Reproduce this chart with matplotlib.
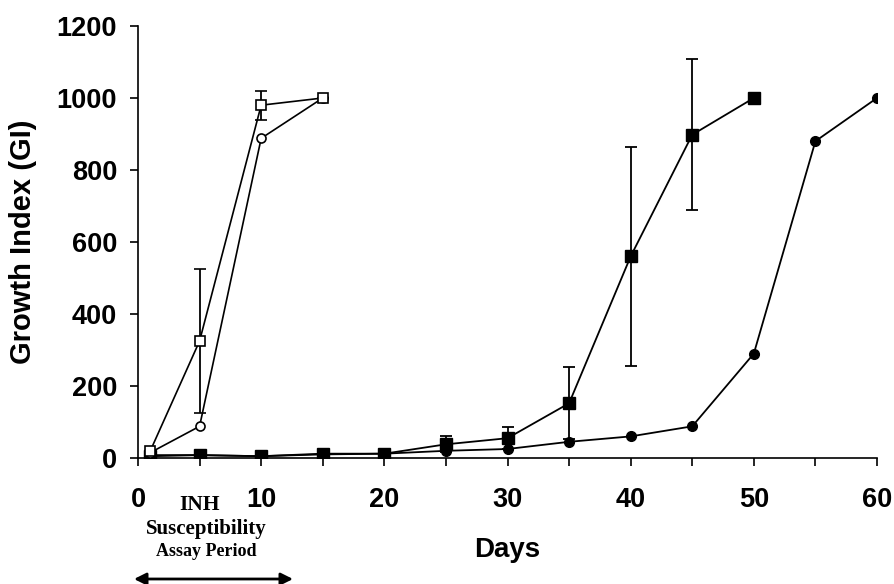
import matplotlib.pyplot as plt
from matplotlib.ticker import MultipleLocator

# Days and growth index values for each series
days_open = [1, 5, 10, 15]
open_square = [20, 325, 980, 1000]
open_square_lo = [0, 200, 40, 0]
open_square_hi = [0, 200, 40, 0]
open_circle = [15, 88, 888, 1000]

days_sq = [1, 5, 10, 15, 20, 25, 30, 35, 40, 45, 50]
filled_square = [5, 8, 5, 12, 12, 38, 55, 152, 560, 898, 1000]
filled_square_err = [0, 0, 0, 0, 0, 22, 30, 100, 305, 210, 0]

days_circ = [1, 5, 10, 15, 20, 25, 30, 35, 40, 45, 50, 55, 60]
filled_circle = [8, 8, 5, 10, 12, 20, 25, 45, 60, 88, 290, 880, 1000]

plt.rcParams['font.family'] = ['Liberation Sans', 'DejaVu Sans']

W, H = 894, 584
fig = plt.figure(figsize=(W / 100, H / 100), dpi=100)
ax = fig.add_axes([138 / W, 1 - 458 / H, 739 / W, 432 / H])

ax.plot(days_circ, filled_circle, color='black', lw=1.3, marker='o',
        ms=7, mfc='black', mec='black', zorder=3)
ax.errorbar(days_sq, filled_square, yerr=filled_square_err, color='black',
            lw=1.3, marker='s', ms=8, mfc='black', mec='black',
            capsize=4, elinewidth=1.3, capthick=1.3, zorder=3)
ax.plot(days_open, open_circle, color='black', lw=1.2, marker='o',
        ms=6.5, mfc='white', mec='black', mew=1.2, zorder=4)
ax.errorbar(days_open, open_square, yerr=[open_square_lo, open_square_hi],
            color='black', lw=1.2, marker='s', ms=6.5, mfc='white',
            mec='black', mew=1.2, capsize=4, elinewidth=1.3, capthick=1.3,
            zorder=4)

ax.set_xlim(0, 60)
ax.set_ylim(0, 1200)
ax.xaxis.set_major_locator(MultipleLocator(10))
ax.xaxis.set_minor_locator(MultipleLocator(5))
ax.yaxis.set_major_locator(MultipleLocator(200))
ax.tick_params(axis='both', which='both', direction='out', length=6,
               width=1.2, labelsize=19.5)
ax.tick_params(axis='x', pad=15)
ax.tick_params(axis='y', pad=9)
for lbl in ax.get_xticklabels() + ax.get_yticklabels():
    lbl.set_fontweight('bold')

ax.spines['top'].set_visible(False)
ax.spines['right'].set_visible(False)
ax.spines['left'].set_linewidth(1.2)
ax.spines['bottom'].set_linewidth(1.2)

ax.set_ylabel("Growth Index (GI)", fontsize=21, fontweight='bold', va='center')
ax.yaxis.set_label_coords((23 - 138) / 739, 0.5)
ax.set_xlabel("Days", fontsize=20, fontweight='bold', va='center')
ax.xaxis.set_label_coords((507 - 138) / 739, (458 - 550) / 432)

# INH assay period annotation
serif = ['Liberation Serif', 'DejaVu Serif']
fig.text(200 / W, 1 - 505 / H, "INH", family=serif, fontsize=15.5,
         fontweight='bold', ha='center', va='center')
fig.text(206 / W, 1 - 529 / H, "Susceptibility", family=serif,
         fontsize=15, fontweight='bold', ha='center', va='center')
fig.text(206 / W, 1 - 551 / H, "Assay Period", family=serif,
         fontsize=13, fontweight='bold', ha='center', va='center')
fig.add_artist(plt.Annotation("", xy=(134 / W, 1 - 579 / H),
                              xytext=(293 / W, 1 - 579 / H),
                              xycoords='figure fraction',
                              arrowprops=dict(arrowstyle='<|-|>', color='black',
                                              lw=2, mutation_scale=18,
                                              shrinkA=0, shrinkB=0)))

fig.savefig("out.png", dpi=100)
